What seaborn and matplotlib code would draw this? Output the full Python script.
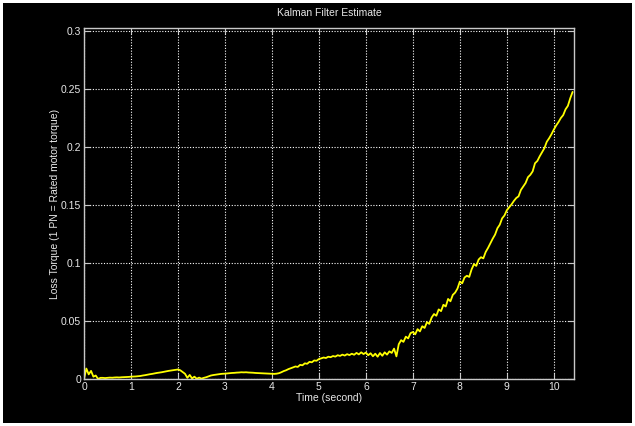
import numpy as np
import matplotlib
matplotlib.use("Agg")
import matplotlib.pyplot as plt
from matplotlib.patches import Rectangle
import seaborn as sns

loss_torque = [
    # 0.00 - 0.95 s
    0.0000, 0.0090, 0.0040, 0.0070, 0.0020, 0.0030, 0.0000, 0.0010, 0.0010, 0.0008,
    0.0010, 0.0012, 0.0011, 0.0013, 0.0014, 0.0013, 0.0015, 0.0016, 0.0017, 0.0018,
    # 1.00 - 1.95 s
    0.0020, 0.0021, 0.0022, 0.0024, 0.0026, 0.0030, 0.0033, 0.0037, 0.0041, 0.0044,
    0.0048, 0.0052, 0.0055, 0.0058, 0.0062, 0.0066, 0.0070, 0.0073, 0.0076, 0.0079,
    # 2.00 - 2.95 s
    0.0082, 0.0075, 0.0060, 0.0045, 0.0010, 0.0035, 0.0005, 0.0020, 0.0002, 0.0012,
    0.0003, 0.0010, 0.0015, 0.0022, 0.0030, 0.0034, 0.0037, 0.0040, 0.0043, 0.0045,
    # 3.00 - 3.95 s
    0.0046, 0.0048, 0.0050, 0.0052, 0.0053, 0.0055, 0.0056, 0.0058, 0.0057, 0.0058,
    0.0056, 0.0055, 0.0054, 0.0052, 0.0051, 0.0050, 0.0049, 0.0048, 0.0047, 0.0046,
    # 4.00 - 4.95 s
    0.0045, 0.0044, 0.0046, 0.0050, 0.0058, 0.0068, 0.0075, 0.0085, 0.0092, 0.0100,
    0.0108, 0.0104, 0.0122, 0.0118, 0.0135, 0.0131, 0.0148, 0.0144, 0.0160, 0.0157,
    # 5.00 - 5.95 s
    0.0172, 0.0178, 0.0185, 0.0181, 0.0192, 0.0188, 0.0198, 0.0193, 0.0205, 0.0199,
    0.0210, 0.0202, 0.0214, 0.0206, 0.0218, 0.0209, 0.0225, 0.0212, 0.0230, 0.0215,
    # 6.00 - 6.95 s
    0.0228, 0.0205, 0.0222, 0.0196, 0.0218, 0.0192, 0.0224, 0.0200, 0.0230, 0.0210,
    0.0238, 0.0225, 0.0262, 0.0195, 0.0300, 0.0335, 0.0320, 0.0365, 0.0350, 0.0395,
    # 7.00 - 7.95 s
    0.0405, 0.0385, 0.0430, 0.0410, 0.0455, 0.0440, 0.0490, 0.0475, 0.0530, 0.0560,
    0.0545, 0.0600, 0.0585, 0.0640, 0.0625, 0.0690, 0.0670, 0.0725, 0.0745, 0.0780,
    # 8.00 - 8.95 s
    0.0840, 0.0825, 0.0875, 0.0890, 0.0880, 0.0945, 0.0990, 0.0975, 0.1030, 0.1050,
    0.1040, 0.1095, 0.1130, 0.1170, 0.1210, 0.1245, 0.1300, 0.1330, 0.1385, 0.1410,
    # 9.00 - 9.95 s
    0.1455, 0.1480, 0.1505, 0.1535, 0.1560, 0.1575, 0.1630, 0.1660, 0.1690, 0.1740,
    0.1760, 0.1790, 0.1860, 0.1880, 0.1920, 0.1955, 0.1990, 0.2045, 0.2075, 0.2110,
    # 10.00 - 10.40 s
    0.2150, 0.2185, 0.2215, 0.2250, 0.2275, 0.2325, 0.2355, 0.2420, 0.2475,
]
time_s = np.round(np.arange(len(loss_torque)) * 0.05, 2)

x_ticks = [0, 1, 2, 3, 4, 5, 6, 7, 8, 9, 10]
y_ticks = [0, 0.05, 0.1, 0.15, 0.2, 0.25, 0.3]
y_tick_labels = ["0", "0.05", "0.1", "0.15", "0.2", "0.25", "0.3"]

sns.set_style("dark")
plt.rcParams["font.family"] = ["Liberation Sans", "DejaVu Sans"]

fig = plt.figure(figsize=(6.35, 4.26), dpi=100, facecolor="white")
# black window inside a thin white frame (drawn behind the axes)
fig.patches.append(Rectangle((3 / 635, 3 / 426), 629 / 635, 420 / 426,
                             transform=fig.transFigure, facecolor="black",
                             edgecolor="none", zorder=-10))
ax = fig.add_axes([84 / 635, 47 / 426, 490 / 635, 351 / 426])
ax.set_facecolor("black")

sns.lineplot(x=time_s, y=loss_torque, ax=ax, color="#ffff00", linewidth=1.3)

ax.set_xlim(0, 10.43)
ax.set_ylim(0, 0.3026)
ax.set_xticks(x_ticks)
ax.set_yticks(y_ticks)
ax.set_yticklabels(y_tick_labels)

ax.grid(True, color="white", linestyle=(0, (1, 1.5)), linewidth=0.8)
for side in ["left", "right", "top", "bottom"]:
    ax.spines[side].set_visible(True)
    ax.spines[side].set_color("#c8c8c8")
    ax.spines[side].set_linewidth(1.0)

ax.tick_params(axis="both", which="both", direction="in", length=4,
               color="#c8c8c8", labelcolor="#e8e8e8", labelsize=7.5,
               top=True, right=True, bottom=True, left=True, pad=2)

ax.set_title("Kalman Filter Estimate", color="#e8e8e8", fontsize=7.5, pad=9)
ax.set_xlabel("Time (second)", color="#e8e8e8", fontsize=7.5, labelpad=1)
ax.set_ylabel("Loss Torque (1 PN = Rated motor torque)", color="#e8e8e8",
              fontsize=7.5, labelpad=1)

fig.savefig("out.png", dpi=100, facecolor=fig.get_facecolor())
